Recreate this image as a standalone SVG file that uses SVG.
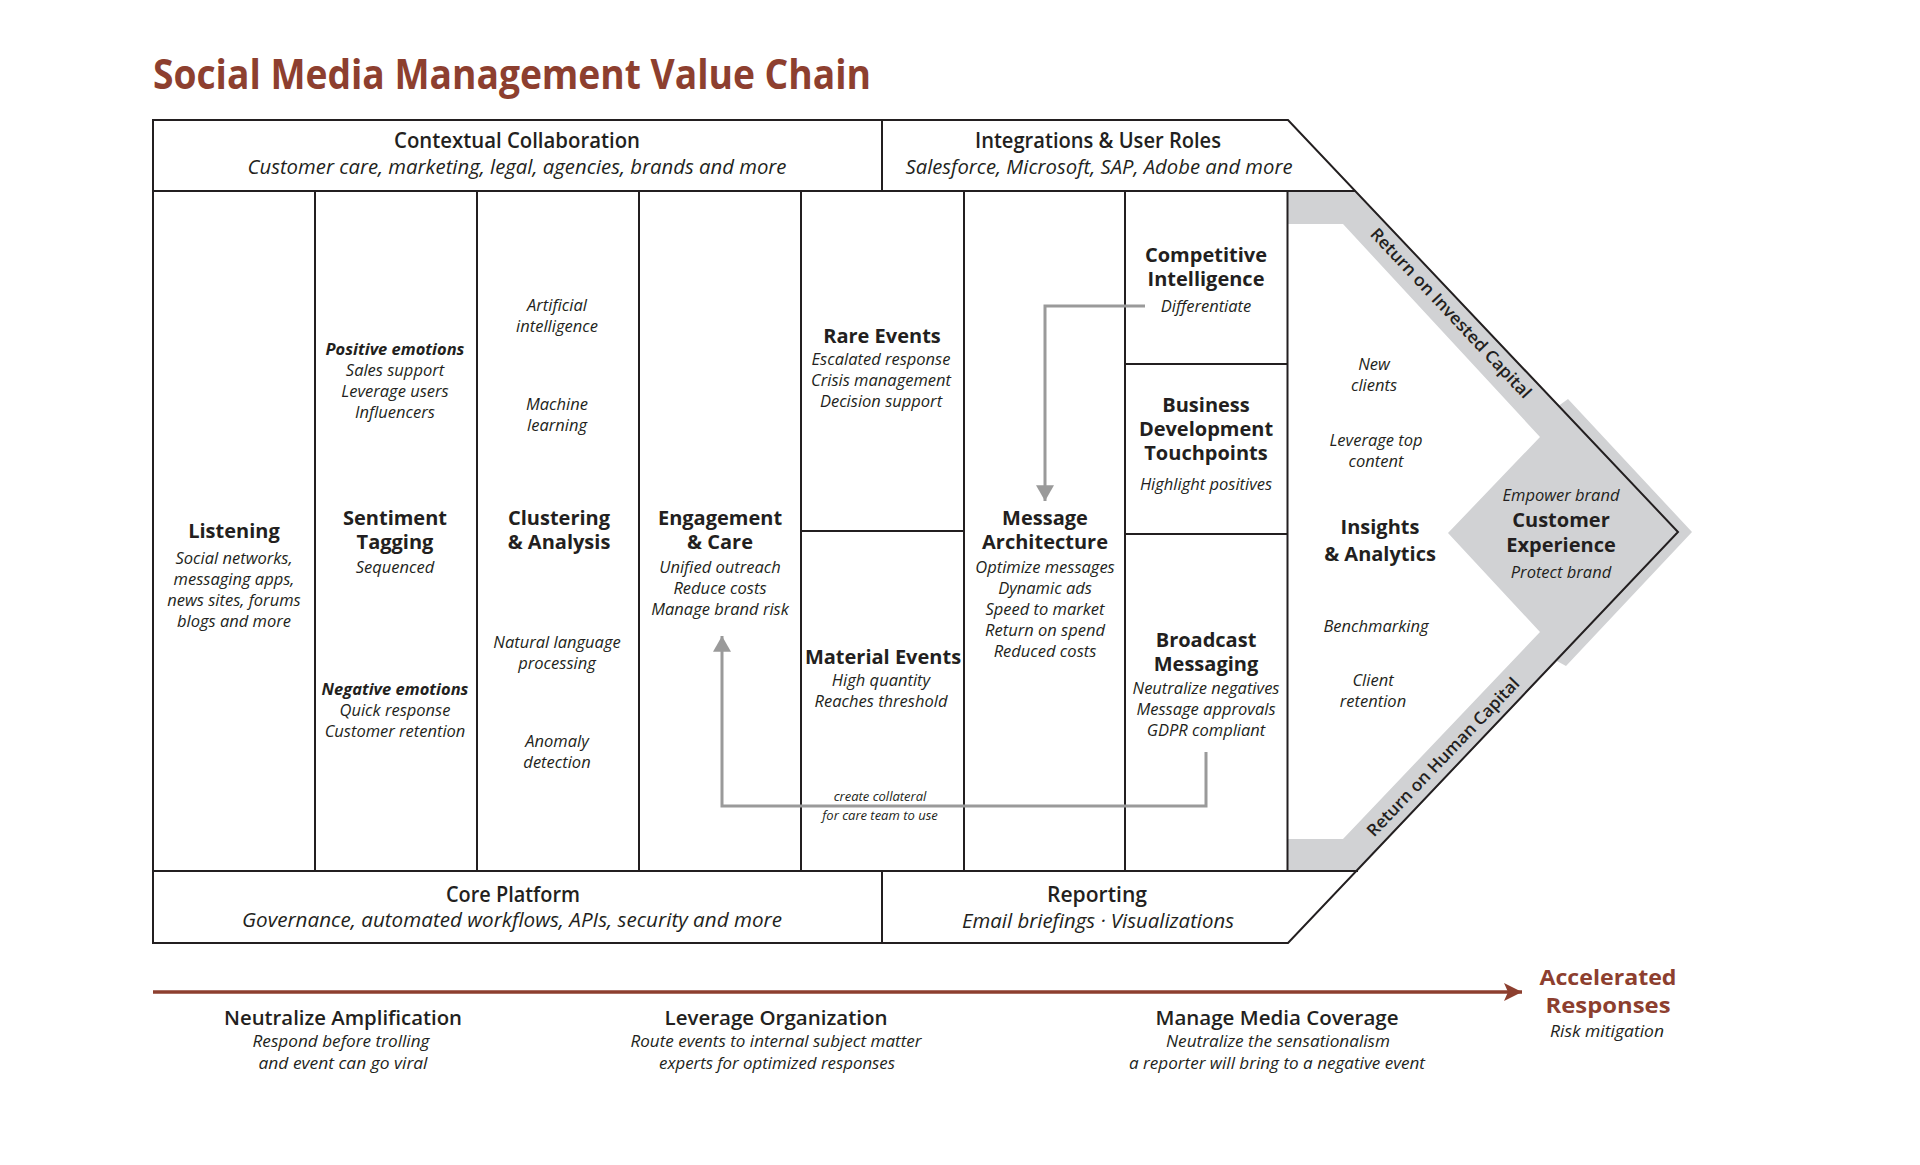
<svg xmlns="http://www.w3.org/2000/svg" width="1920" height="1165" viewBox="0 0 1920 1165">
<defs>
<style>
.ln{stroke:#231f20;stroke-width:2;fill:none}
.h{font-family:'Open Sans',sans-serif;font-weight:700;font-size:20px;text-anchor:middle;fill:#231f20}
.i{font-family:'Open Sans',sans-serif;font-style:italic;font-size:16.5px;text-anchor:middle;fill:#231f20}
.bi{font-family:'Open Sans',sans-serif;font-style:italic;font-weight:700;font-size:16.5px;text-anchor:middle;fill:#231f20}
.ch{font-family:'Open Sans',sans-serif;font-weight:600;font-size:21px;text-anchor:middle;fill:#231f20}
.ci{font-family:'Open Sans',sans-serif;font-style:italic;font-size:20px;text-anchor:middle;fill:#231f20}
.bh{font-family:'Open Sans',sans-serif;font-weight:600;font-size:20px;text-anchor:middle;fill:#231f20}
.bs{font-family:'Open Sans',sans-serif;font-style:italic;font-size:17px;text-anchor:middle;fill:#231f20}
.rt{font-family:'Open Sans',sans-serif;font-weight:600;font-size:17px;text-anchor:middle;fill:#231f20}
.sm{font-family:'Open Sans',sans-serif;font-style:italic;font-size:13px;text-anchor:middle;fill:#231f20}
.br{fill:#8d3f2f}
.ga{stroke:#9a9a9a;stroke-width:3;fill:none}
</style>
<marker id="gah" markerUnits="userSpaceOnUse" markerWidth="18" markerHeight="18" viewBox="0 0 14 16" refX="14" refY="8" orient="auto">
<path d="M0,0 L14,8 L0,16 Z" fill="#9a9a9a"/>
</marker>
<marker id="bah" markerUnits="userSpaceOnUse" markerWidth="18" markerHeight="18" viewBox="0 0 18 18" refX="18" refY="9" orient="auto">
<path d="M0,0 L18,9 L0,18 L4,9 Z" fill="#8d3f2f"/>
</marker>
</defs>
<rect width="1920" height="1165" fill="#ffffff"/>

<text id="title" x="153" y="89" font-family="'Open Sans',sans-serif" font-weight="700" font-size="42" class="br" textLength="718" lengthAdjust="spacingAndGlyphs">Social Media Management Value Chain</text>

<g id="gray-band">
<polygon points="1288,191 1355.5,191 1678,532 1358,871 1288,871 1288,839 1343,839 1540,632 1448,533 1540,437 1343,224 1288,224" fill="#d1d2d4"/>
<polygon points="1557,407 1568,399 1692,532 1566,666 1555,660 1678,532" fill="#d1d2d4"/>
</g>

<g id="frame">
<path class="ln" d="M153,120 H1288 L1678,532 L1288,943 H153 Z"/>
<line class="ln" x1="153" y1="191" x2="1355.5" y2="191"/>
<line class="ln" x1="153" y1="871" x2="1358" y2="871"/>
<line class="ln" x1="882" y1="120" x2="882" y2="191"/>
<line class="ln" x1="882" y1="871" x2="882" y2="943"/>
<line class="ln" x1="315" y1="191" x2="315" y2="871"/>
<line class="ln" x1="477" y1="191" x2="477" y2="871"/>
<line class="ln" x1="639" y1="191" x2="639" y2="871"/>
<line class="ln" x1="801" y1="191" x2="801" y2="871"/>
<line class="ln" x1="964" y1="191" x2="964" y2="871"/>
<line class="ln" x1="1125" y1="191" x2="1125" y2="871"/>
<line class="ln" x1="1287.5" y1="191" x2="1287.5" y2="871"/>
<line class="ln" x1="801" y1="531" x2="964" y2="531"/>
<line class="ln" x1="1125" y1="364" x2="1287.5" y2="364"/>
<line class="ln" x1="1125" y1="534" x2="1287.5" y2="534"/>
</g>

<g id="contextual-collaboration">
<text class="ch" x="517" y="148" textLength="246" lengthAdjust="spacingAndGlyphs">Contextual Collaboration</text>
<text class="ci" x="517" y="174" textLength="539" lengthAdjust="spacingAndGlyphs">Customer care, marketing, legal, agencies, brands and more</text>
</g>
<g id="integrations">
<text class="ch" x="1098" y="148" textLength="246" lengthAdjust="spacingAndGlyphs">Integrations &amp; User Roles</text>
<text class="ci" x="1099" y="174" textLength="387" lengthAdjust="spacingAndGlyphs">Salesforce, Microsoft, SAP, Adobe and more</text>
</g>
<g id="core-platform">
<text class="ch" x="513" y="902" textLength="134" lengthAdjust="spacingAndGlyphs">Core Platform</text>
<text class="ci" x="512" y="927" textLength="540" lengthAdjust="spacingAndGlyphs">Governance,  automated workflows, APIs, security and more</text>
</g>
<g id="reporting">
<text class="ch" x="1097" y="902" textLength="100" lengthAdjust="spacingAndGlyphs">Reporting</text>
<text class="ci" x="1098" y="928" textLength="272" lengthAdjust="spacingAndGlyphs">Email briefings · Visualizations</text>
</g>

<g id="listening">
<text class="h" x="234" y="538">Listening</text>
<text class="i" x="234" y="564">Social networks,</text>
<text class="i" x="234" y="585">messaging apps,</text>
<text class="i" x="234" y="606">news sites, forums</text>
<text class="i" x="234" y="627">blogs and more</text>
</g>

<g id="sentiment-tagging">
<text class="bi" x="395" y="355">Positive emotions</text>
<text class="i" x="395" y="376">Sales support</text>
<text class="i" x="395" y="397">Leverage users</text>
<text class="i" x="395" y="418">Influencers</text>
<text class="h" x="395" y="525">Sentiment</text>
<text class="h" x="395" y="549">Tagging</text>
<text class="i" x="395" y="573">Sequenced</text>
<text class="bi" x="395" y="695">Negative emotions</text>
<text class="i" x="395" y="716">Quick response</text>
<text class="i" x="395" y="737">Customer retention</text>
</g>

<g id="clustering-analysis">
<text class="i" x="557" y="311">Artificial</text>
<text class="i" x="557" y="332">intelligence</text>
<text class="i" x="557" y="410">Machine</text>
<text class="i" x="557" y="431">learning</text>
<text class="h" x="559" y="525">Clustering</text>
<text class="h" x="559" y="549">&amp; Analysis</text>
<text class="i" x="557" y="648">Natural language</text>
<text class="i" x="557" y="669">processing</text>
<text class="i" x="557" y="747">Anomaly</text>
<text class="i" x="557" y="768">detection</text>
</g>

<g id="engagement-care">
<text class="h" x="720" y="525">Engagement</text>
<text class="h" x="720" y="549">&amp; Care</text>
<text class="i" x="720" y="573">Unified outreach</text>
<text class="i" x="720" y="594">Reduce costs</text>
<text class="i" x="720" y="615">Manage brand risk</text>
</g>

<g id="rare-events">
<text class="h" x="882" y="343">Rare Events</text>
<text class="i" x="881" y="365">Escalated response</text>
<text class="i" x="881" y="386">Crisis management</text>
<text class="i" x="881" y="407">Decision support</text>
</g>

<g id="material-events">
<text class="h" x="883" y="664">Material Events</text>
<text class="i" x="881" y="686">High quantity</text>
<text class="i" x="881" y="707">Reaches threshold</text>
</g>

<g id="message-architecture">
<text class="h" x="1045" y="525">Message</text>
<text class="h" x="1045" y="549">Architecture</text>
<text class="i" x="1045" y="573">Optimize messages</text>
<text class="i" x="1045" y="594">Dynamic ads</text>
<text class="i" x="1045" y="615">Speed to market</text>
<text class="i" x="1045" y="636">Return on spend</text>
<text class="i" x="1045" y="657">Reduced costs</text>
</g>

<g id="competitive-intelligence">
<text class="h" x="1206" y="262">Competitive</text>
<text class="h" x="1206" y="286">Intelligence</text>
<text class="i" x="1206" y="312">Differentiate</text>
</g>

<g id="business-development">
<text class="h" x="1206" y="412">Business</text>
<text class="h" x="1206" y="436">Development</text>
<text class="h" x="1206" y="460">Touchpoints</text>
<text class="i" x="1206" y="490">Highlight positives</text>
</g>

<g id="broadcast-messaging">
<text class="h" x="1206" y="647">Broadcast</text>
<text class="h" x="1206" y="671">Messaging</text>
<text class="i" x="1206" y="694">Neutralize negatives</text>
<text class="i" x="1206" y="715">Message approvals</text>
<text class="i" x="1206" y="736">GDPR compliant</text>
</g>

<g id="insights-analytics">
<text class="i" x="1374" y="370">New</text>
<text class="i" x="1374" y="391">clients</text>
<text class="i" x="1376" y="446">Leverage top</text>
<text class="i" x="1376" y="467">content</text>
<text class="h" x="1380" y="534" font-size="22.5">Insights</text>
<text class="h" x="1380" y="561" font-size="22.5">&amp; Analytics</text>
<text class="i" x="1376" y="632">Benchmarking</text>
<text class="i" x="1373" y="686">Client</text>
<text class="i" x="1373" y="707">retention</text>
</g>

<g id="customer-experience">
<text class="i" x="1561" y="501">Empower brand</text>
<text class="h" x="1561" y="527" font-size="20.5">Customer</text>
<text class="h" x="1561" y="552" font-size="20.5">Experience</text>
<text class="i" x="1561" y="578">Protect brand</text>
</g>

<g id="return-labels">
<text class="rt" transform="translate(1451,313) rotate(46.8)" dy="6" textLength="226" lengthAdjust="spacingAndGlyphs">Return on Invested Capital</text>
<text class="rt" transform="translate(1443,757) rotate(-46.3)" dy="6" textLength="212" lengthAdjust="spacingAndGlyphs">Return on Human Capital</text>
</g>

<g id="connectors">
<path class="ga" d="M1145,306 H1045 V501" marker-end="url(#gah)"/>
<path class="ga" d="M1206,752 V806 H722 V636" marker-end="url(#gah)"/>
<text class="sm" x="880" y="801">create collateral</text>
<text class="sm" x="880" y="820">for care team to use</text>
<line x1="153" y1="992" x2="1522" y2="992" stroke="#8d3f2f" stroke-width="3.5" marker-end="url(#bah)"/>
</g>

<g id="neutralize-amplification">
<text class="bh" x="343" y="1025" textLength="238" lengthAdjust="spacingAndGlyphs">Neutralize Amplification</text>
<text class="bs" x="341" y="1047" textLength="177" lengthAdjust="spacingAndGlyphs">Respond before trolling</text>
<text class="bs" x="343" y="1069" textLength="169" lengthAdjust="spacingAndGlyphs">and event can go viral</text>
</g>
<g id="leverage-organization">
<text class="bh" x="776" y="1025" textLength="223" lengthAdjust="spacingAndGlyphs">Leverage Organization</text>
<text class="bs" x="776" y="1047" textLength="291" lengthAdjust="spacingAndGlyphs">Route events to internal subject matter</text>
<text class="bs" x="777" y="1069" textLength="236" lengthAdjust="spacingAndGlyphs">experts for optimized responses</text>
</g>
<g id="manage-media-coverage">
<text class="bh" x="1277" y="1025" textLength="243" lengthAdjust="spacingAndGlyphs">Manage Media Coverage</text>
<text class="bs" x="1278" y="1047" textLength="224" lengthAdjust="spacingAndGlyphs">Neutralize the sensationalism</text>
<text class="bs" x="1277" y="1069" textLength="296" lengthAdjust="spacingAndGlyphs">a reporter will bring to a negative event</text>
</g>
<g id="accelerated-responses">
<text x="1608" y="985" font-family="'Open Sans',sans-serif" font-weight="700" font-size="20.5" text-anchor="middle" class="br" textLength="137" lengthAdjust="spacingAndGlyphs">Accelerated</text>
<text x="1608" y="1013" font-family="'Open Sans',sans-serif" font-weight="700" font-size="20.5" text-anchor="middle" class="br" textLength="125" lengthAdjust="spacingAndGlyphs">Responses</text>
<text class="bs" x="1607" y="1037" textLength="114" lengthAdjust="spacingAndGlyphs">Risk mitigation</text>
</g>
</svg>
